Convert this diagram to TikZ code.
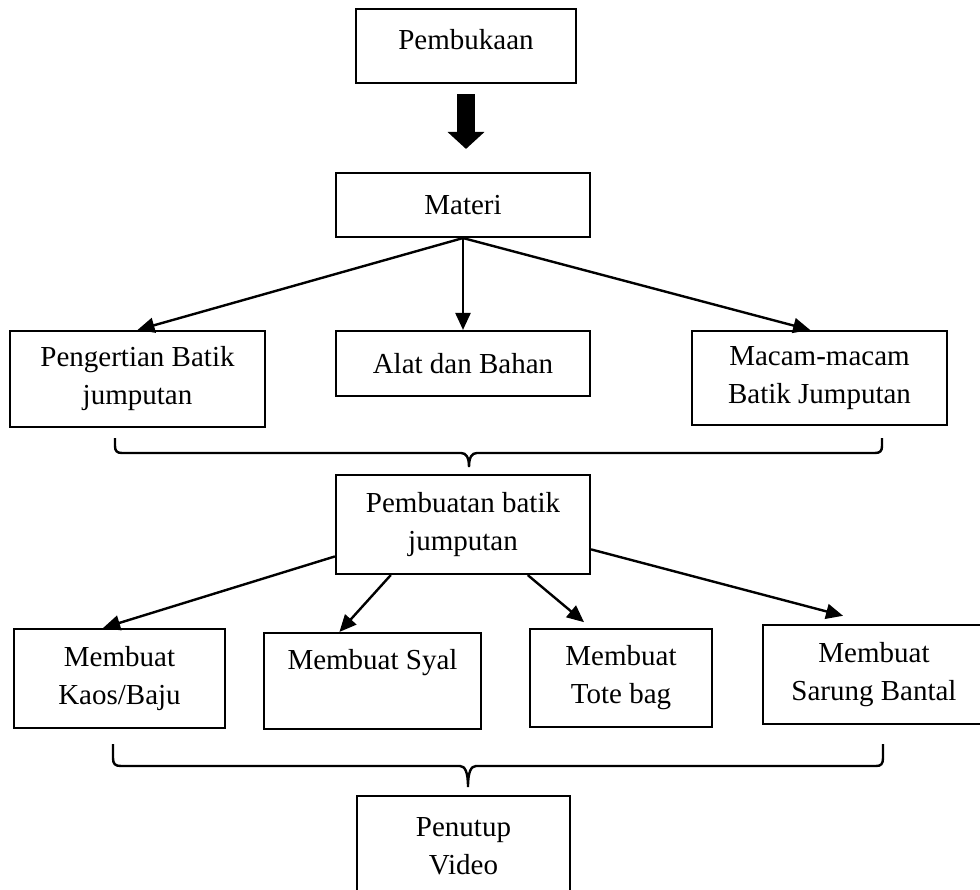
\documentclass[tikz,border=0pt]{standalone}
\usepackage{fontspec}
\setmainfont{Liberation Serif}
\usetikzlibrary{arrows.meta}

\begin{document}
\begin{tikzpicture}[x=1pt, y=-1pt, >={Triangle[length=17pt,width=15pt]},
	kotak/.style={draw, line width=2.1pt, align=center, inner sep=0pt, font=\fontsize{29}{38}\selectfont},
	panah/.style={->, line width=2.4pt},
	panahbesar/.style={-{Triangle[length=17pt,width=36pt]}, line width=18pt},
	kurung/.style={line width=2.4pt}]
	
	\clip (0,0) rectangle (980,890);
	
	% Pembukaan
	\node[kotak, minimum width=220, minimum height=74, text depth=14pt] (pembukaan) at (466,46) {Pembukaan};
	
	% Materi
	\node[kotak, minimum width=254, minimum height=64] (materi) at (463,205) {Materi};
	\draw[panahbesar, shorten <=10pt, shorten >=23pt] (pembukaan.south) -- (pembukaan.south |- materi.north);
	
	% Isi materi
	\node[kotak, minimum width=255, minimum height=96] (pengertian) at (137.5,379) {Pengertian Batik\\jumputan};
	\node[kotak, minimum width=254, minimum height=65] (alat) at (463,363.5) {Alat dan Bahan};
	\node[kotak, minimum width=255, minimum height=94] (macam) at (819.5,378) {Macam-macam\\Batik Jumputan};
	\draw[panah] (materi.south) -- (pengertian.north);
	\draw[panah] (materi.south) -- (alat.north);
	\draw[panah] (materi.south) -- (macam.101);
	
	% Kurung kurawal 1
	\draw[kurung] (115,438) -- (115,446) .. controls (115,451) and (117,453) .. (122,453) -- (461,453)
		.. controls (466,453) and (469,457) .. (469,467) .. controls (469,457) and (472,453) .. (477,453)
		-- (875,453) .. controls (880,453) and (882,451) .. (882,446) -- (882,438);
	
	% Pembuatan batik jumputan
	\node[kotak, minimum width=254, minimum height=99] (pembuatan) at (463,524.5) {Pembuatan batik\\jumputan};
	
	% Hasil pembuatan
	\node[kotak, minimum width=211, minimum height=99] (kaos) at (119.5,678.5) {Membuat\\Kaos/Baju};
	\node[kotak, minimum width=217, minimum height=96, text depth=44pt] (syal) at (372.5,681) {Membuat Syal};
	\node[kotak, minimum width=182, minimum height=98] (tote) at (621,678) {Membuat\\Tote bag};
	\node[kotak, minimum width=222, minimum height=99] (sarung) at (874,674.5) {Membuat\\Sarung Bantal};
	\draw[panah] (pembuatan.194) -- (kaos.108);
	\draw[panah] (pembuatan.215) -- (syal.124);
	\draw[panah, shorten >=9pt] (pembuatan.322) -- (tote.121);
	\draw[panah, shorten >=32pt] (pembuatan.349) -- (sarung.north);
	
	% Kurung kurawal 2
	\draw[kurung] (113,744) -- (113,758) .. controls (113,764) and (115,766) .. (121,766) -- (460,766)
		.. controls (465,766) and (468,772) .. (468,787) .. controls (468,772) and (471,766) .. (476,766)
		-- (876,766) .. controls (881,766) and (883,764) .. (883,758) -- (883,744);
	
	% Penutup
	\node[kotak, minimum width=213, minimum height=100] (penutup) at (463.5,846) {Penutup\\Video};
\end{tikzpicture}
\end{document}
